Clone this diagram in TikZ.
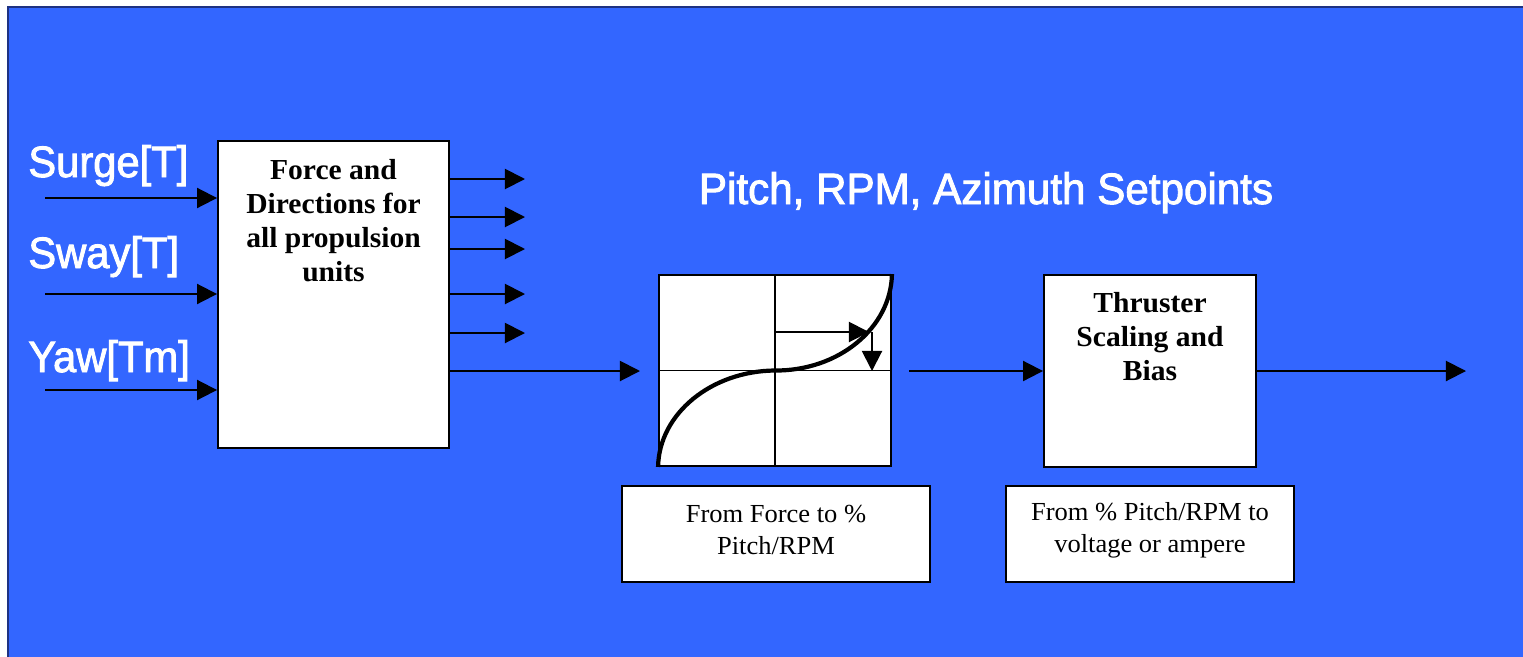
\documentclass[tikz,border=0pt]{standalone}
\usepackage{fontspec}
\usepackage{tikz}
\usetikzlibrary{positioning}
\usetikzlibrary{calc}
\usetikzlibrary{arrows.meta}

\newfontfamily\lblfont[FakeStretch=0.95,FakeBold=2]{Liberation Sans}
\newfontfamily\ttlfont[FakeStretch=0.96,FakeBold=2]{Liberation Sans}
\newfontfamily\boxfont[FakeStretch=1.02]{Liberation Serif}

\definecolor{bgblue}{RGB}{51,102,255}
\definecolor{bgedge}{RGB}{30,50,130}

\tikzset{
  blk/.style={draw=black, fill=white, line width=1.1pt, inner sep=0pt},
  sig/.style={-{Triangle[length=11.4pt,width=11.4pt]}, line width=1.1pt},
  lbl/.style={white, inner sep=0pt, anchor=base west, font=\lblfont\fontsize{25}{30}\selectfont},
  btxt/.style={inner sep=0pt, anchor=north, align=center, font=\boxfont\bfseries\fontsize{16.5}{19.35}\selectfont},
  ctxt/.style={inner sep=0pt, align=center, font=\boxfont\fontsize{14.8}{18.2}\selectfont}
}

\begin{document}
\begin{tikzpicture}[x=0.02cm,y=-0.02cm]
\useasboundingbox (0,0) rectangle (1523,656);
\fill[white] (0,0) rectangle (1523,656);
\fill[bgblue] (8,7) rectangle (1530,663);
\draw[bgedge, line width=0.6pt] (8,663) -- (8,7) -- (1530,7);

% inputs
\node[lbl](surge) at (28,177){Surge[T]};
\node[lbl](sway) at (28,268){Sway[T]};
\node[lbl](yaw) at (28,372){Yaw[Tm]};
\node[white, font=\ttlfont\fontsize{25}{30}\selectfont, inner sep=0pt, anchor=base](title) at (986,204){Pitch, RPM, Azimuth Setpoints};

% blocks
\node[blk, minimum width=4.62cm, minimum height=6.14cm](fdir) at (333.5,294.5){};
\node[btxt](fdirtxt) at (333.5,159){Force and\\Directions for\\all propulsion\\units};
\node[blk, minimum width=4.64cm, minimum height=3.82cm](map) at (775,370.5){};
\node[blk, minimum width=4.24cm, minimum height=3.84cm](thr) at (1150,371){};
\node[btxt](thrtxt) at (1150,292){Thruster\\Scaling and\\Bias};
\node[blk, minimum width=6.16cm, minimum height=1.92cm](capA) at (776,534){};
\node[ctxt](capAtxt) at (776,530){From Force to \%\\Pitch/RPM};
\node[blk, minimum width=5.76cm, minimum height=1.92cm](capB) at (1150,534){};
\node[ctxt](capBtxt) at (1150,530){From \% Pitch/RPM to\\voltage or ampere};

\coordinate (inS) at (45,198);
\coordinate (inW) at (45,294);
\coordinate (inY) at (45,390);
\coordinate (out1) at (525,179);
\coordinate (out2) at (525,217);
\coordinate (out3) at (525,249);
\coordinate (out4) at (525,294);
\coordinate (out5) at (525,333);
\coordinate (toMap) at (640,371);
\coordinate (fromMap) at (909,371);
\coordinate (final) at (1466,371);
\coordinate (hA) at (775,332);
\coordinate (hB) at (869,332);
\coordinate (vA) at (872,332);
\coordinate (vB) at (872,371);

% curve
\draw[line width=0.6pt] (map.north) -- (map.south);
\draw[line width=0.6pt] (map.west) -- (map.east);
\draw[line width=2.4pt] (map.south west) .. controls (659,413.5) and (711.5,371) .. (map.center)
  .. controls (838.5,371) and (891,328) .. (map.north east);

\path
(inS) edge[sig] (inS -| fdir.west)
(inW) edge[sig] (inW -| fdir.west)
(inY) edge[sig] (inY -| fdir.west)
(out1 -| fdir.east) edge[sig] (out1)
(out2 -| fdir.east) edge[sig] (out2)
(out3 -| fdir.east) edge[sig] (out3)
(out4 -| fdir.east) edge[sig] (out4)
(out5 -| fdir.east) edge[sig] (out5)
(toMap -| fdir.east) edge[sig] (toMap)
(hA) edge[sig] (hB)
(vA) edge[sig] (vB)
(fromMap) edge[sig] (thr.west)
(thr.east) edge[sig] (final);
\end{tikzpicture}
\end{document}
